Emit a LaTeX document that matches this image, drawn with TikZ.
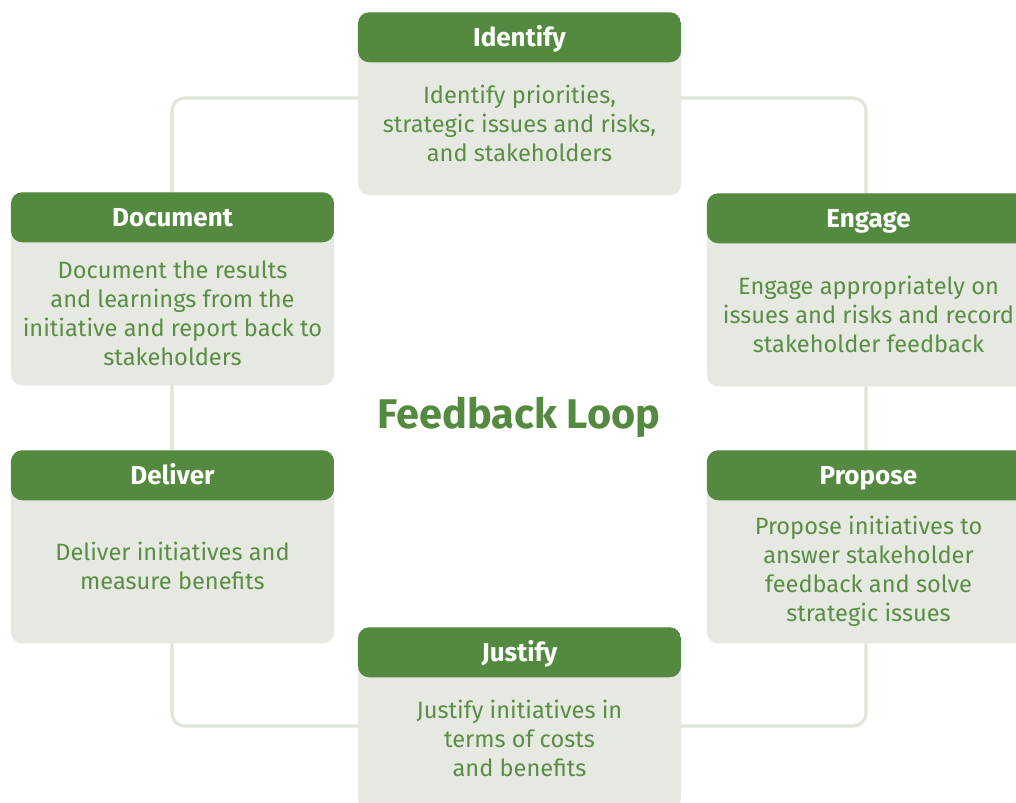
\documentclass[tikz,border=0pt]{standalone}
\usepackage{fontspec}
\setmainfont{Fira Sans}
\usetikzlibrary{positioning}
\definecolor{leafgreen}{HTML}{548A3F}
\definecolor{sage}{HTML}{E6E9E1}
\definecolor{mossgreen}{HTML}{5A8E45}
\definecolor{loopgray}{HTML}{DDE6D8}
\tikzset{
	stagebox/.style={rounded corners=8pt, fill=sage, minimum width=8.075cm, minimum height=#1, inner sep=0pt, anchor=north,
		path picture={\fill[leafgreen] (path picture bounding box.north west) rectangle ([yshift=-1.25cm]path picture bounding box.north east);}},
	stagetitle/.style={text=white, font=\bfseries\fontsize{18.5}{22}\selectfont, inner sep=0pt, anchor=base},
	stagetext/.style={text=mossgreen, align=center, font=\fontsize{16.8}{20.6}\selectfont, inner sep=0pt},
	loopline/.style={draw=loopgray, line width=2.2pt, rounded corners=9pt}
}
\begin{document}
\begin{tikzpicture}[x=0.025cm, y=-0.025cm]
		\useasboundingbox (0,0) rectangle (1016,802);
		% the loop behind the stages
		\coordinate (loop nw) at (172,98);
		\coordinate (loop se) at (866,726);
		\draw[loopline] (loop nw) rectangle (loop se);
		% stages
		\node[stagebox=4.575cm] (identify) at (519.5,12) {};
		\node[stagebox=4.825cm] (document) at (172.5,192) {};
		\node[stagebox=4.825cm] (engage) at (868.5,193) {};
		\node[stagebox=4.825cm] (deliver) at (172.5,450) {};
		\node[stagebox=4.825cm] (propose) at (868.5,450) {};
		\node[stagebox=4.575cm] (justify) at (519.5,627) {};
		\node[stagetitle] (identify title) at ([yshift=-0.85cm]identify.north) {Identify};
		\node[stagetitle] (document title) at ([yshift=-0.85cm]document.north) {Document};
		\node[stagetitle] (engage title) at ([yshift=-0.85cm]engage.north) {Engage};
		\node[stagetitle] (deliver title) at ([yshift=-0.85cm]deliver.north) {Deliver};
		\node[stagetitle] (propose title) at ([yshift=-0.85cm]propose.north) {Propose};
		\node[stagetitle] (justify title) at ([yshift=-0.85cm]justify.north) {Justify};
		\node[stagetext] (identify text) at ([yshift=1.8cm]identify.south) {Identify priorities,\\strategic issues and risks,\\and stakeholders};
		\node[stagetext] (document text) at ([yshift=1.8cm]document.south) {Document the results\\and learnings from the\\initiative and report back to\\stakeholders};
		\node[stagetext] (engage text) at ([yshift=1.8cm]engage.south) {Engage appropriately on\\issues and risks and record\\stakeholder feedback};
		\node[stagetext] (deliver text) at ([yshift=1.93cm]deliver.south) {Deliver initiatives and\\measure benefits};
		\node[stagetext] (propose text) at ([yshift=1.8cm]propose.south) {Propose initiatives to\\answer stakeholder\\feedback and solve\\strategic issues};
		\node[stagetext] (justify text) at ([yshift=1.8cm]justify.south) {Justify initiatives in\\terms of costs\\and benefits};
		% centre
		\node[text=leafgreen, font=\bfseries\fontsize{29.5}{34}\selectfont] (loop title) at (519,417) {Feedback Loop};
\end{tikzpicture}
\end{document}
